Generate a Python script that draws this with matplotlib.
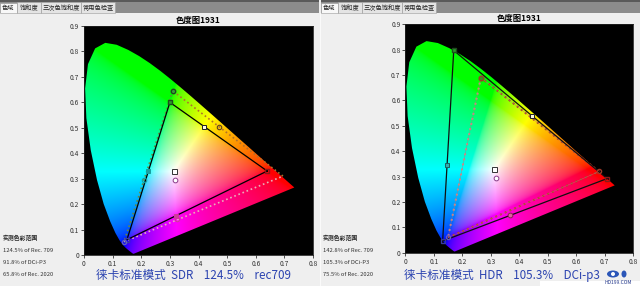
import numpy as np
import matplotlib
matplotlib.use("Agg")
import matplotlib.pyplot as plt
from matplotlib.patches import Polygon, Rectangle, Ellipse

plt.rcParams['font.family'] = ['Noto Sans CJK SC', 'DejaVu Sans']

# CIE 1931 光谱轨迹 (x, y)
locus_x = [0.1741, 0.1733, 0.1726, 0.1714, 0.1689, 0.1644, 0.1566, 0.1440, 0.1355, 0.1241,
           0.1096, 0.0913, 0.0687, 0.0454, 0.0235, 0.0082, 0.0039, 0.0139, 0.0389, 0.0743,
           0.1142, 0.1547, 0.1929, 0.2296, 0.2658, 0.3016, 0.3373, 0.3731, 0.4087, 0.4441,
           0.4788, 0.5125, 0.5448, 0.5752, 0.6029, 0.6270, 0.6658, 0.6915, 0.7079, 0.7190,
           0.7260, 0.7347]
locus_y = [0.0050, 0.0048, 0.0048, 0.0051, 0.0069, 0.0109, 0.0177, 0.0297, 0.0399, 0.0578,
           0.0868, 0.1327, 0.2007, 0.2950, 0.4127, 0.5384, 0.6548, 0.7502, 0.8120, 0.8338,
           0.8262, 0.8059, 0.7816, 0.7543, 0.7243, 0.6923, 0.6589, 0.6245, 0.5896, 0.5547,
           0.5202, 0.4866, 0.4544, 0.4242, 0.3965, 0.3725, 0.3340, 0.3083, 0.2920, 0.2809,
           0.2740, 0.2653]

# 左图 SDR: 参考 Rec.709 (方块) 与 实测 (圆点)
sdr_ref_x = [0.64, 0.30, 0.15, 0.64]
sdr_ref_y = [0.33, 0.60, 0.06, 0.33]
sdr_meas_x = [0.695, 0.31, 0.14, 0.695]
sdr_meas_y = [0.31, 0.645, 0.052, 0.31]
sdr_ref_cym_x = [0.225, 0.42, 0.32]
sdr_ref_cym_y = [0.33, 0.505, 0.155]
sdr_meas_cym_x = [0.21, 0.47, 0.325]
sdr_meas_cym_y = [0.293, 0.505, 0.143]
sdr_white = [(0.313, 0.33), (0.318, 0.296)]
sdr_stats = ["124.5% of Rec. 709", "91.8% of DCi-P3", "65.8% of Rec. 2020"]
sdr_caption = "徕卡标准模式  SDR    124.5%    rec709"

# 右图 HDR: Rec.2020 (方块) 与 DCI-P3 (圆点)
hdr_ref_x = [0.708, 0.17, 0.131, 0.708]
hdr_ref_y = [0.292, 0.797, 0.046, 0.292]
hdr_meas_x = [0.68, 0.265, 0.15, 0.68]
hdr_meas_y = [0.32, 0.69, 0.06, 0.32]
hdr_ref_cym_x = [0.145, 0.446, 0.366]
hdr_ref_cym_y = [0.344, 0.539, 0.147]
hdr_white = [(0.311, 0.33), (0.319, 0.296)]
hdr_stats = ["142.8% of Rec. 709", "105.3% of DCi-P3", "75.5% of Rec. 2020"]
hdr_caption = "徕卡标准模式  HDR    105.3%    DCi-p3"

tabs = ["色域", "饱和度", "三次色饱和度", "常用色检查"]
tab_w = [17, 24, 40, 34]

W, H = 640, 286
fig = plt.figure(figsize=(6.4, 2.86), dpi=100)
fig.patch.set_facecolor('#efefef')


def px_rect(x, y, w, h, **kw):
    fig.add_artist(Rectangle((x / W, 1 - (y + h) / H), w / W, h / H,
                             transform=fig.transFigure, **kw))


def px_text(x, y, s, **kw):
    fig.text(x / W, 1 - y / H, s, **kw)


# 色度图背景
gx = np.linspace(0, 0.8, 400)
gy = np.linspace(0, 0.9, 450)
GX, GY = np.meshgrid(gx, gy)
GYs = np.maximum(GY, 1e-4)
XYZ = np.stack([GX / GYs, np.ones_like(GX), (1 - GX - GY) / GYs], -1)
M = np.array([[3.2406, -1.5372, -0.4986],
              [-0.9689, 1.8758, 0.0415],
              [0.0557, -0.2040, 1.0570]])
rgb = np.clip(XYZ @ M.T, 0, None)
rgb = rgb / (rgb.max(-1, keepdims=True) + 1e-9)
rgb = np.where(rgb <= 0.0031308, 12.92 * rgb, 1.055 * rgb ** (1 / 2.4) - 0.055)
rgb = np.clip(rgb, 0, 1)


def chart(ax):
    ax.set_facecolor('black')
    im = ax.imshow(rgb, origin='lower', extent=(0, 0.8, 0, 0.9), aspect='auto',
                   interpolation='bilinear')
    poly = Polygon(np.column_stack([locus_x, locus_y]), closed=True,
                   transform=ax.transData, facecolor='none', edgecolor='none')
    ax.add_patch(poly)
    im.set_clip_path(poly)
    ax.set_xlim(0, 0.8)
    ax.set_ylim(0, 0.9)
    ax.set_xticks(np.arange(0, 0.81, 0.1))
    ax.set_yticks(np.arange(0, 0.91, 0.1))
    ax.set_xticklabels(['0'] + ['%.1f' % v for v in np.arange(0.1, 0.81, 0.1)])
    ax.set_yticklabels(['0'] + ['%.1f' % v for v in np.arange(0.1, 0.91, 0.1)])
    ax.tick_params(labelsize=4.8, length=2.5, width=0.6, pad=1, colors='#333333')
    for s in ax.spines.values():
        s.set_color('#222222')
        s.set_linewidth(0.6)
    ax.set_title('色度图1931', fontsize=6, fontweight='bold', pad=2.5)


def edges(ax, xs, ys, colors, ls, lw):
    for i in range(3):
        ax.plot(xs[i:i + 2], ys[i:i + 2], color=colors[i], ls=ls, lw=lw, zorder=3)


# ---- 左图 ----
axL = fig.add_axes([84 / W, 1 - 255 / H, 229 / W, 229 / H])
chart(axL)
edges(axL, sdr_meas_x, sdr_meas_y, ['#b0702c', '#6a8a3a', '#e8b0b8'], ':', 1.2)
axL.plot(sdr_ref_x, sdr_ref_y, color='black', lw=0.9, zorder=4)
axL.plot(sdr_ref_x[0], sdr_ref_y[0], marker='s', ms=3.2, mfc='none', mec='#8a1a1a', zorder=5)
axL.plot(sdr_ref_x[1], sdr_ref_y[1], marker='s', ms=3.2, mfc='#2e9a2e', mec='#1e4a1e', zorder=5)
axL.plot(sdr_ref_x[2], sdr_ref_y[2], marker='s', ms=3.2, mfc='none', mec='#3a3aa0', zorder=5)
axL.plot(sdr_meas_x[1], sdr_meas_y[1], marker='o', ms=3.2, mfc='#3a9a3a', mec='#1e4a1e', zorder=5)
axL.plot(sdr_meas_x[2], sdr_meas_y[2], marker='o', ms=3, mfc='none', mec='#6060c0', zorder=5)
cym_cols = ['#1aa0a0', '#fff8e0', '#d03a9a']
for i in range(3):
    axL.plot(sdr_ref_cym_x[i], sdr_ref_cym_y[i], marker='s', ms=3.4, mfc=cym_cols[i],
             mec='#202020' if i == 1 else cym_cols[i], mew=0.7, zorder=6)
    axL.plot(sdr_meas_cym_x[i], sdr_meas_cym_y[i], marker='o', ms=3.2, mfc='none',
             mec='#604020' if i == 1 else cym_cols[i], mew=0.8, zorder=6)
axL.plot(*sdr_white[0], marker='s', ms=3.6, mfc='white', mec='#333333', mew=0.7, zorder=6)
axL.plot(*sdr_white[1], marker='o', ms=3.4, mfc='white', mec='#8a3a8a', mew=0.7, zorder=6)

# ---- 右图 ----
axR = fig.add_axes([405.3 / W, 1 - 252.7 / H, 228 / W, 228.4 / H])
chart(axR)
edges(axR, hdr_meas_x, hdr_meas_y, ['#a8402a', '#d88a8a', '#b0402a'], ':', 1.4)
axR.plot(hdr_meas_x, hdr_meas_y, color='#c07070', lw=0.4, alpha=0.7, zorder=3)
axR.plot(hdr_ref_x, hdr_ref_y, color='#101010', lw=0.9, zorder=4)
axR.plot(hdr_ref_x[1], hdr_ref_y[1], marker='s', ms=3.2, mfc='#2e9a2e', mec='#1e4a1e', zorder=5)
axR.plot(hdr_ref_x[0], hdr_ref_y[0], marker='s', ms=3.2, mfc='none', mec='#8a1a1a', zorder=5)
axR.plot(hdr_ref_x[2], hdr_ref_y[2], marker='s', ms=3.2, mfc='none', mec='#3a3aa0', zorder=5)
axR.plot(hdr_meas_x[1], hdr_meas_y[1], marker='o', ms=3.4, mfc='#3a8a2a', mec='#a03a2a', zorder=5)
axR.plot(hdr_meas_x[0], hdr_meas_y[0], marker='o', ms=3, mfc='none', mec='#a03a2a', zorder=5)
axR.plot(hdr_meas_x[2], hdr_meas_y[2], marker='o', ms=3, mfc='none', mec='#6060c0', zorder=5)
axR.plot(hdr_ref_cym_x[0], hdr_ref_cym_y[0], marker='s', ms=3.4, mfc='#30b0b0', mec='#1a6060', mew=0.7, zorder=6)
axR.plot(hdr_ref_cym_x[1], hdr_ref_cym_y[1], marker='s', ms=3.4, mfc='#fff8e0', mec='#202020', mew=0.7, zorder=6)
axR.plot(hdr_ref_cym_x[2], hdr_ref_cym_y[2], marker='o', ms=3.4, mfc='#e060a0', mec='#8a2050', mew=0.7, zorder=6)
axR.plot(*hdr_white[0], marker='s', ms=3.6, mfc='white', mec='#333333', mew=0.7, zorder=6)
axR.plot(*hdr_white[1], marker='o', ms=3.4, mfc='white', mec='#8a3a8a', mew=0.7, zorder=6)

# ---- 标签页 ----
for x0 in (0, 321):
    px_rect(x0, 0, 319, 1.5, facecolor='#5a5a5a', edgecolor='none')
    px_rect(x0, 2.5, 319, 10, facecolor='#8c8c8c', edgecolor='none')
    x = x0
    for i, (t, w) in enumerate(zip(tabs, tab_w)):
        px_rect(x, 2.5, w, 10.5 if i == 0 else 10,
                facecolor='#f8f8f8' if i == 0 else '#e4e4e4', edgecolor='#9a9a9a', lw=0.4)
        px_text(x + w / 2, 8, t, fontsize=4.5, ha='center', va='center', color='#222222')
        x += w
px_rect(319.5, 13, 1.8, 273, facecolor='#fafafa', edgecolor='none')

# ---- 统计文字 ----
for x0, stats in ((3, sdr_stats), (323, hdr_stats)):
    px_text(x0, 238, "实测色彩范围", fontsize=4.2, fontweight='bold', va='center', color='#222222')
    for i, s in enumerate(stats):
        px_text(x0, 250 + 12 * i, s, fontsize=4.2, va='center', color='#333333')

px_text(194, 275, sdr_caption, fontsize=8.4, ha='center', va='center', color='#2b43b0')
px_text(502, 275, hdr_caption, fontsize=8.4, ha='center', va='center', color='#2b43b0')

# HD199 标志
px_rect(540, 281, 100, 5, facecolor='white', edgecolor='none')
fig.add_artist(Ellipse((613 / W, 1 - 274 / H), 12 / W, 7 / H, transform=fig.transFigure,
                       facecolor='#2b56b8', edgecolor='none'))
fig.add_artist(Ellipse((613 / W, 1 - 274 / H), 4 / W, 4 / H, transform=fig.transFigure,
                       facecolor='white', edgecolor='none'))
fig.add_artist(Ellipse((624 / W, 1 - 274 / H), 5 / W, 7 / H, transform=fig.transFigure,
                       facecolor='#2b56b8', edgecolor='none'))
px_text(618, 282.5, "HD199.COM", fontsize=3.6, ha='center', va='center', color='#2b3f90')

fig.savefig('out.png', dpi=100, facecolor=fig.get_facecolor())
